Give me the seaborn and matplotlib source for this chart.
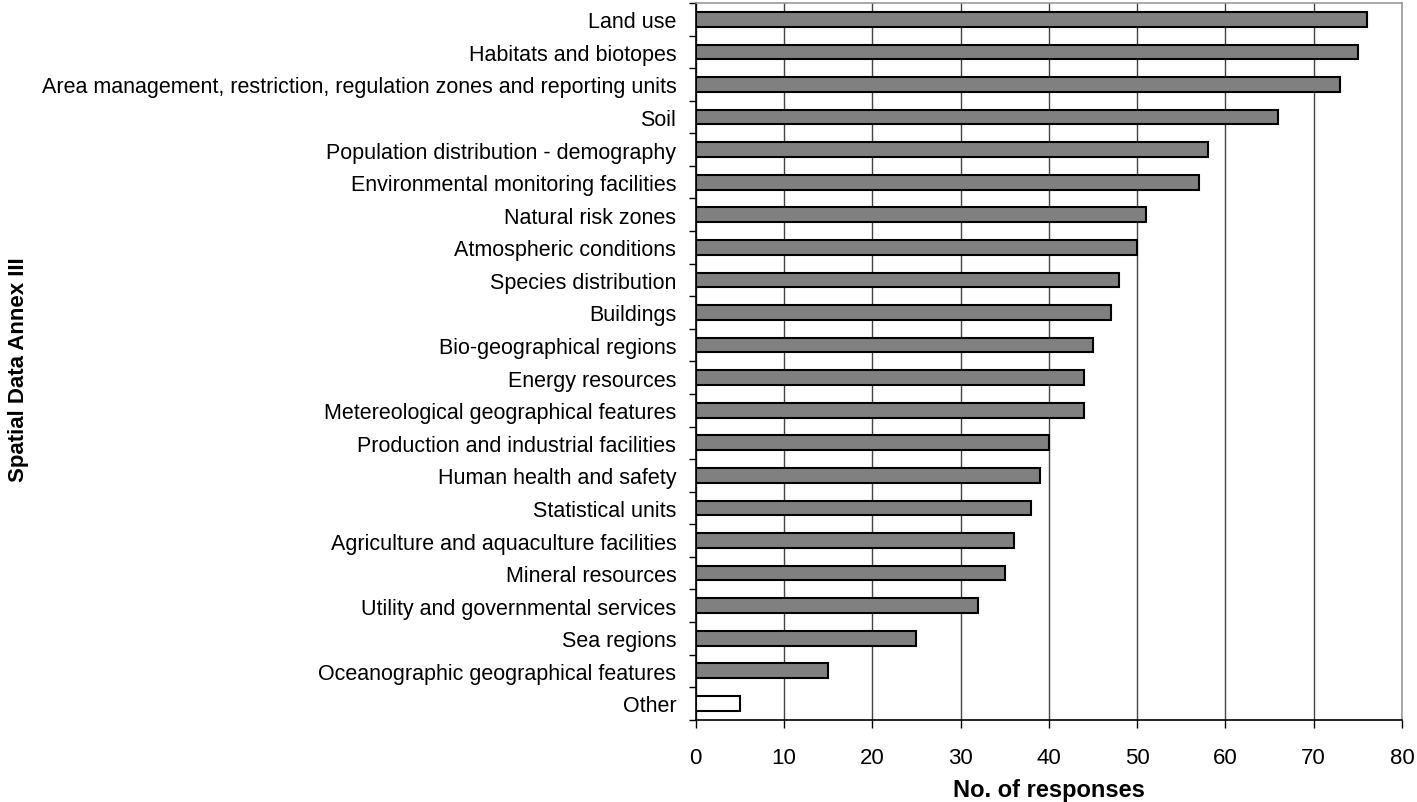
import numpy as np
import pandas as pd
import seaborn as sns
import matplotlib.pyplot as plt

categories = [
    "Land use",
    "Habitats and biotopes",
    "Area management, restriction, regulation zones and reporting units",
    "Soil",
    "Population distribution - demography",
    "Environmental monitoring facilities",
    "Natural risk zones",
    "Atmospheric conditions",
    "Species distribution",
    "Buildings",
    "Bio-geographical regions",
    "Energy resources",
    "Metereological geographical features",
    "Production and industrial facilities",
    "Human health and safety",
    "Statistical units",
    "Agriculture and aquaculture facilities",
    "Mineral resources",
    "Utility and governmental services",
    "Sea regions",
    "Oceanographic geographical features",
    "Other",
]
responses = [76, 75, 73, 66, 58, 57, 51, 50, 48, 47, 45, 44, 44, 40, 39, 38, 36, 35, 32, 25, 15, 5]
bar_colors = ["#808080"] * (len(categories) - 1) + ["#ffffff"]

sns.set_style("white")
plt.rcParams["font.family"] = ["Liberation Sans", "DejaVu Sans"]
plt.rcParams["text.color"] = "black"
plt.rcParams["xtick.color"] = "black"
plt.rcParams["ytick.color"] = "black"
plt.rcParams["axes.labelcolor"] = "black"

df = pd.DataFrame({"category": categories, "responses": responses})

fig = plt.figure(figsize=(14.17, 8.03), dpi=100)
ax = fig.add_axes([0.491, 0.1025, 0.4984, 0.8925])

sns.barplot(data=df, x="responses", y="category", hue="category",
            palette=bar_colors, legend=False, width=0.45,
            edgecolor="black", linewidth=1.5, ax=ax, zorder=3)

ax.set_xlim(0, 80)
ax.set_ylim(len(categories) - 0.5, -0.5)
ax.set_xticks(np.arange(0, 81, 10))
ax.xaxis.grid(True, color="#444444", linewidth=1.0, zorder=0)
ax.set_axisbelow(True)

# Excel-style ticks at category boundaries
ax.set_yticks(np.arange(-0.5, len(categories)), minor=True)
ax.tick_params(axis="y", which="major", length=0, pad=14, labelsize=15.5)
ax.tick_params(axis="y", which="minor", length=5, width=1, color="black", left=True)
ax.tick_params(axis="x", which="major", length=6, width=1, color="black",
               bottom=True, pad=14, labelsize=16)

for side in ["left", "bottom"]:
    ax.spines[side].set_color("black")
    ax.spines[side].set_linewidth(1.2)
for side in ["top", "right"]:
    ax.spines[side].set_color("#999999")
    ax.spines[side].set_linewidth(1.2)

ax.set_xlabel("No. of responses", fontsize=17, fontweight="bold", labelpad=7)
ax.set_ylabel("")
fig.text(0.013, 0.539, "Spatial Data Annex III", rotation=90, fontsize=16,
         fontweight="bold", ha="center", va="center")

fig.savefig("out.png", dpi=100)
